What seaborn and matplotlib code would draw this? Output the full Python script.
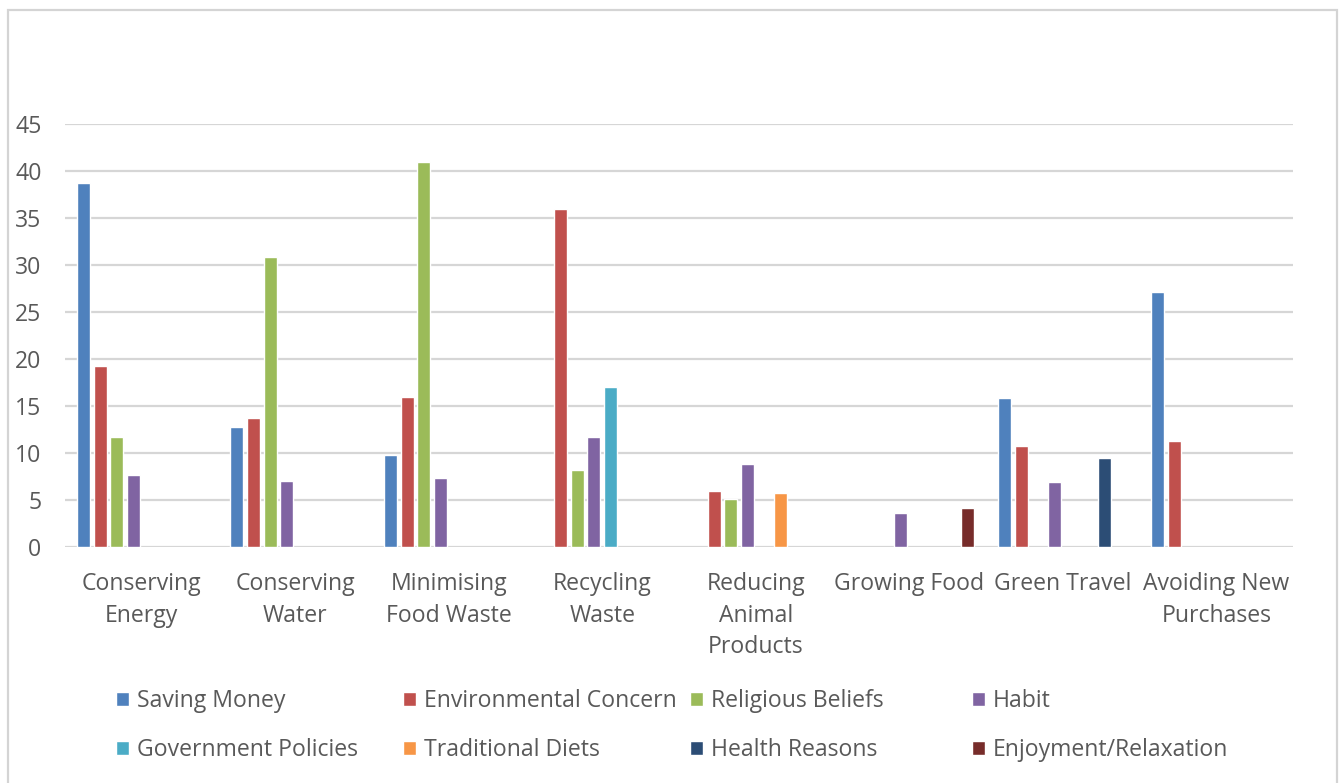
import numpy as np
import pandas as pd
import matplotlib
matplotlib.use("Agg")
import matplotlib.pyplot as plt
from matplotlib.patches import Rectangle
import seaborn as sns

categories = ["Conserving\nEnergy", "Conserving\nWater", "Minimising\nFood Waste",
              "Recycling\nWaste", "Reducing\nAnimal\nProducts", "Growing Food",
              "Green Travel", "Avoiding New\nPurchases"]

series_names = ["Saving Money", "Environmental Concern", "Religious Beliefs", "Habit",
                "Government Policies", "Traditional Diets", "Health Reasons",
                "Enjoyment/Relaxation"]

saving_money = [38.7, 12.8, 9.8, None, None, None, 15.8, 27.1]
environmental_concern = [19.3, 13.7, 16.0, 36.0, 6.0, None, 10.7, 11.3]
religious_beliefs = [11.7, 30.8, 41.0, 8.2, 5.1, None, None, None]
habit = [7.7, 7.0, 7.3, 11.7, 8.8, 3.6, 6.9, None]
government_policies = [None, None, None, 17.0, None, None, None, None]
traditional_diets = [None, None, None, None, 5.7, None, None, None]
health_reasons = [None, None, None, None, None, None, 9.5, None]
enjoyment_relaxation = [None, None, None, None, None, 4.2, None, None]

series_values = [saving_money, environmental_concern, religious_beliefs, habit,
                 government_policies, traditional_diets, health_reasons,
                 enjoyment_relaxation]

colors = ["#4F81BD", "#C0504D", "#9BBB59", "#8064A2",
          "#4BACC6", "#F79646", "#2C4D75", "#772C2A"]

y_ticks = [0, 5, 10, 15, 20, 25, 30, 35, 40, 45]

rows = []
for name, vals in zip(series_names, series_values):
    for cat, v in zip(categories, vals):
        if v is not None:
            rows.append({"Category": cat, "Motivation": name, "Value": v})
df = pd.DataFrame(rows)

sns.set_theme(style="white")
plt.rcParams["font.family"] = ["Open Sans", "DejaVu Sans"]

W, H = 1344, 783
FS = 16.6
fig = plt.figure(figsize=(W / 100, H / 100), dpi=100)
fig.patch.set_facecolor("white")

# outer chart frame
fig.patches.append(Rectangle((8 / W, -10 / H), (1337 - 8) / W, (H - 10 + 10) / H,
                             transform=fig.transFigure, fill=False,
                             edgecolor="#d4d4d4", linewidth=1.6))

ax = fig.add_axes([65 / W, 1 - 547 / H, 1228 / W, 423 / H])
sns.barplot(data=df, x="Category", y="Value", hue="Motivation",
            order=categories, hue_order=series_names, palette=colors,
            saturation=1, width=0.87, gap=0.22, ax=ax, errorbar=None)

handles, labels = ax.get_legend_handles_labels()
if ax.legend_ is not None:
    ax.legend_.remove()

ax.set_ylim(0, 45)
ax.set_yticks(y_ticks)
ax.set_xlim(-0.5, len(categories) - 0.5)
ax.set_xlabel("")
ax.set_ylabel("")
for s in ax.spines.values():
    s.set_visible(False)
ax.yaxis.grid(True, color="#d6d6d6", linewidth=1.6)
ax.set_axisbelow(True)
ax.tick_params(axis="y", length=0, pad=17, labelsize=FS, labelcolor="#595959")
ax.tick_params(axis="x", length=0, pad=18, labelsize=FS, labelcolor="#595959")
for t in ax.get_xticklabels():
    t.set_linespacing(1.43)
    t.set_verticalalignment("top")

col_x = [116, 403, 690, 972]
for c in range(4):
    fig.legend(handles=[handles[c], handles[c + 4]],
               labels=[labels[c], labels[c + 4]],
               loc="upper left", bbox_to_anchor=(col_x[c] / W, 1 - 689 / H),
               frameon=False, fontsize=FS, labelcolor="#595959",
               handlelength=0.55, handleheight=0.55, handletextpad=0.35,
               labelspacing=1.1, borderpad=0, borderaxespad=0)

fig.savefig("out.png", dpi=100, facecolor="white")
